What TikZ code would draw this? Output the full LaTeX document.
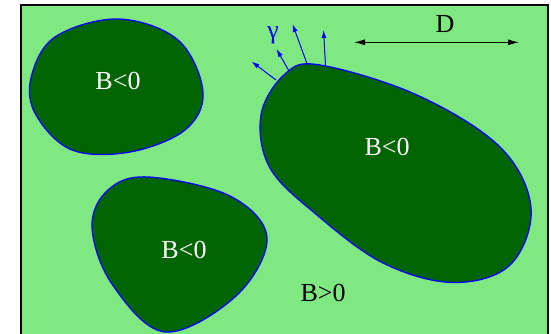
\documentclass[tikz,border=0pt]{standalone}
\usepackage{fontspec}
\setmainfont{Liberation Serif}
\definecolor{FieldGreen}{RGB}{128,232,128}
\definecolor{DomainGreen}{RGB}{0,100,0}
\usetikzlibrary{arrows.meta}
\tikzset{>={Latex[length=11pt,width=6pt]}}
\tikzset{negregion/.style={fill=DomainGreen,draw=blue,line width=1.3pt}}
\tikzset{domlabel/.style={white,inner sep=0pt,font=\fontsize{26}{30}\selectfont}}
\tikzset{fieldlabel/.style={black,inner sep=0pt,font=\fontsize{26}{30}\selectfont}}
\tikzset{normalvec/.style={blue,line width=1pt,-{Latex[length=8pt,width=5pt]}}}

\begin{document}
\begin{tikzpicture}[x=1pt,y=-1pt]
    \useasboundingbox (0,0) rectangle (551,334);
    \begin{scope}
        \clip (0,0) rectangle (551,334);
        \draw[fill=FieldGreen,line width=2pt] (20.5,5) rectangle (547.5,350);
    \end{scope}
    % domains with B<0
    \draw[negregion] plot[smooth cycle,tension=0.6] coordinates {
        (118,19) (178,40) (203,92) (185,130) (130,152) (72,150) (36,115) (31,78) (55,37)};
    \draw[negregion] plot[smooth cycle,tension=0.6] coordinates {
        (148,177) (230,196) (267,238) (236,296) (165,332) (112,284) (92,227) (108,190)};
    \draw[negregion] plot[smooth cycle,tension=0.6] coordinates {
        (320,65) (417,95) (500,147) (531,208) (510,265) (453,282.5)
        (383,263) (317,215) (270,168) (261,115) (285,74)};
    \node[domlabel] (negA) at (118,81) {B<0};
    \node[domlabel] (negB) at (184,250) {B<0};
    \node[domlabel] (negC) at (387,147) {B<0};
    \node[fieldlabel] (pos) at (323,293) {B>0};
    % normals on the boundary
    \coordinate (s1) at (276,80);   \coordinate (e1) at (251.5,61.5);
    \coordinate (s2) at (289,71);   \coordinate (e2) at (276.5,49);
    \coordinate (s3) at (307.5,65); \coordinate (e3) at (292.5,24);
    \coordinate (s4) at (325.5,65); \coordinate (e4) at (323.5,30);
    \foreach \i in {1,...,4}
        \draw[normalvec] (s\i) -- (e\i);
    \node[blue,inner sep=0pt,font=\fontsize{26}{30}\selectfont] (gamma) at (273,35) {γ};
    % length scale
    \coordinate (dl) at (354,42.3);
    \coordinate (dr) at (519,42.3);
    \draw[<->,line width=1pt] (dl) -- (dr);
    \node[fieldlabel] (len) at (445,24.5) {D};
\end{tikzpicture}
\end{document}
